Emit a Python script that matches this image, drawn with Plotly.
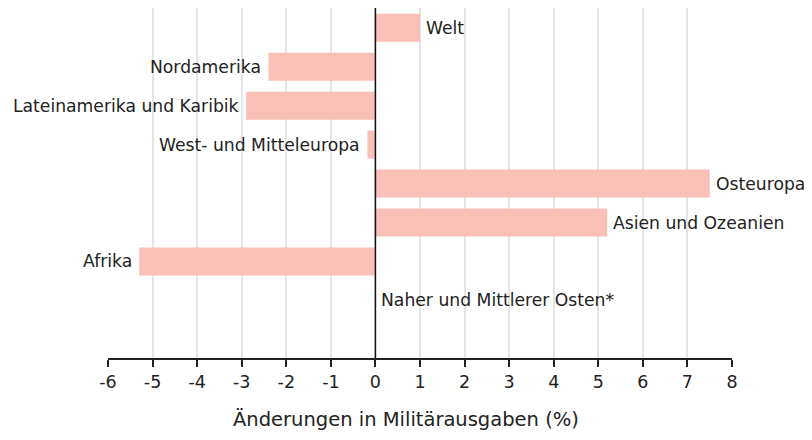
import plotly.graph_objects as go

regions = ["Welt", "Nordamerika", "Lateinamerika und Karibik", "West- und Mitteleuropa",
           "Osteuropa", "Asien und Ozeanien", "Afrika", "Naher und Mittlerer Osten*"]
changes = [1.0, -2.4, -2.9, -0.18, 7.5, 5.2, -5.3, 0.0]
x_ticks = [-6, -5, -4, -3, -2, -1, 0, 1, 2, 3, 4, 5, 6, 7, 8]
x_title = "Änderungen in Militärausgaben (%)"

FONT = "DejaVu Sans"
pos = list(range(len(regions)))

fig = go.Figure()
fig.add_trace(go.Bar(
    x=changes, y=pos, orientation="h", width=0.72,
    marker=dict(color="#f9c0b8", line=dict(width=0)),
    hoverinfo="skip",
))

for p, name, v in zip(pos, regions, changes):
    neg = v < 0
    fig.add_annotation(
        x=v, y=p, xref="x", yref="y", text=name, showarrow=False,
        xanchor="right" if neg else "left", xshift=-5 if neg else 4,
        font=dict(family=FONT, size=17.2, color="#222"),
    )

fig.add_shape(type="line", x0=0, x1=0, y0=-0.51, y1=8.48, xref="x", yref="y",
              line=dict(color="#111", width=1.5))

fig.add_annotation(x=(398 - 100) / 624, y=-61 / 350, xref="paper", yref="paper", text=x_title,
                   showarrow=False, xanchor="center", yanchor="middle",
                   font=dict(family=FONT, size=19.5, color="#222"))

fig.update_layout(
    width=796, height=424,
    margin=dict(l=100, r=72, t=0, b=74),
    plot_bgcolor="white", paper_bgcolor="white",
    showlegend=False,
    font=dict(family=FONT, size=17, color="#222"),
    xaxis=dict(range=[-6, 8], tickvals=x_ticks, ticktext=[str(t) for t in x_ticks],
               showgrid=True, gridcolor="#e5e5e5", gridwidth=1.5, zeroline=False,
               showline=True, linecolor="#222", linewidth=1.5,
               ticks="outside", ticklen=7, tickcolor="#222", tickwidth=1.5,
               tickfont=dict(family=FONT, size=17.5, color="#222")),
    yaxis=dict(range=[8.48, -0.51], showticklabels=False, showgrid=False,
               zeroline=False, showline=False),
)

fig.write_html("out.html")
